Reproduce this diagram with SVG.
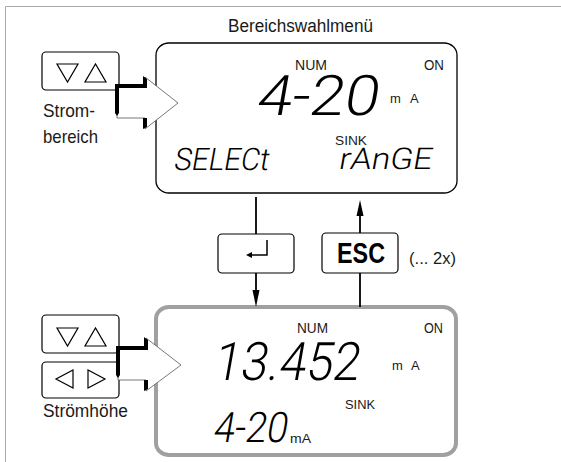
<svg xmlns="http://www.w3.org/2000/svg" width="561" height="462" viewBox="0 0 561 462">
<style>
.lbl{font-family:"Liberation Sans",Arial,sans-serif;fill:#1a1a1a}
.seg{font-family:Roboto,"DejaVu Sans",sans-serif;font-weight:300;fill:#000}
.key{fill:#fff;stroke:#000;stroke-width:1.2}
.tri{fill:none;stroke:#000;stroke-width:1.2;stroke-linejoin:miter}
.conn{stroke:#000;stroke-width:1.8;fill:none}
.bracket{fill:#000}
.arrow{fill:#fff;stroke:#555;stroke-width:0.8}
</style>
<rect x="0" y="0" width="561" height="462" fill="#fff"/>
<g id="frame" stroke="#aaa" stroke-width="1" fill="none">
<path d="M5.5,462 V6.5 H561"/>
</g>
<text class="lbl" x="228" y="31.5" font-size="18" textLength="145" lengthAdjust="spacingAndGlyphs">Bereichswahlmenü</text>

<g id="display-top">
<rect x="156" y="43" width="301" height="150" rx="13" ry="12" fill="#fff" stroke="#000" stroke-width="1.3"/>
<text class="lbl" x="295" y="70" font-size="14" textLength="32" lengthAdjust="spacingAndGlyphs">NUM</text>
<text class="lbl" x="424" y="70" font-size="14" textLength="20" lengthAdjust="spacingAndGlyphs">ON</text>
<g transform="translate(255,115) skewX(-10)"><text class="seg" x="0" y="0" font-size="56" textLength="122" lengthAdjust="spacingAndGlyphs">4-20</text></g>
<text class="lbl" x="390" y="103" font-size="13">m</text>
<text class="lbl" x="410" y="103" font-size="13">A</text>
<text class="lbl" x="335" y="145" font-size="13.5" textLength="32" lengthAdjust="spacingAndGlyphs">SINK</text>
<g transform="translate(173,170) skewX(-10)"><text class="seg" x="0" y="0" font-size="31" textLength="95" lengthAdjust="spacingAndGlyphs">SELECt</text></g>
<g transform="translate(338,169) skewX(-10)"><text class="seg" x="0" y="0" font-size="30" textLength="93" lengthAdjust="spacingAndGlyphs">rAnGE</text></g>
</g>

<g id="display-bottom">
<rect x="156" y="307" width="300" height="148" rx="13" ry="12" fill="#fff" stroke="#a0a0a0" stroke-width="4"/>
<text class="lbl" x="297" y="333" font-size="14" textLength="31" lengthAdjust="spacingAndGlyphs">NUM</text>
<text class="lbl" x="424" y="333" font-size="14" textLength="19" lengthAdjust="spacingAndGlyphs">ON</text>
<g transform="translate(212,380) skewX(-10)"><text class="seg" x="0" y="0" font-size="53" textLength="146" lengthAdjust="spacingAndGlyphs">13.452</text></g>
<text class="lbl" x="392" y="370" font-size="13">m</text>
<text class="lbl" x="411" y="370" font-size="13">A</text>
<text class="lbl" x="345" y="409" font-size="13.5" textLength="30" lengthAdjust="spacingAndGlyphs">SINK</text>
<g transform="translate(212,442) skewX(-10)"><text class="seg" x="0" y="0" font-size="42" textLength="74" lengthAdjust="spacingAndGlyphs">4-20</text></g>
<text class="lbl" x="290" y="443" font-size="12.5" textLength="21" lengthAdjust="spacingAndGlyphs">mA</text>
</g>

<g id="key-range">
<rect class="key" x="42" y="52" width="77" height="38" rx="4"/>
<polygon class="tri" points="57,64 78,64 67.5,82"/>
<polygon class="tri" points="85,82 106,82 95.5,64"/>
<text class="lbl" x="43" y="117" font-size="19" textLength="52" lengthAdjust="spacingAndGlyphs">Strom-</text>
<text class="lbl" x="43" y="143" font-size="19" textLength="55" lengthAdjust="spacingAndGlyphs">bereich</text>
</g>

<g id="key-updown">
<rect class="key" x="42" y="315" width="77" height="38" rx="4"/>
<polygon class="tri" points="57,328 78,328 67.5,346"/>
<polygon class="tri" points="85,346 106,346 95.5,328"/>
</g>
<g id="key-leftright">
<rect class="key" x="42" y="362" width="77" height="36" rx="4"/>
<polygon class="tri" points="73,370 73,388 56,379"/>
<polygon class="tri" points="88,370 88,388 105,379"/>
<text class="lbl" x="43" y="417" font-size="18" textLength="85" lengthAdjust="spacingAndGlyphs">Strömhöhe</text>
</g>

<g id="key-enter">
<rect class="key" x="218" y="234" width="76" height="39" rx="4"/>
<path d="M267,240 V255 H251" fill="none" stroke="#000" stroke-width="1.5"/>
<polygon points="246,255 252,252 252,258" fill="#000"/>
</g>

<g id="key-esc">
<rect class="key" x="322" y="233" width="76" height="40" rx="4"/>
<text x="337" y="263" font-family="Liberation Sans,Arial,sans-serif" font-weight="bold" font-size="29" textLength="48" lengthAdjust="spacingAndGlyphs" fill="#000">ESC</text>
<text class="lbl" x="409" y="264" font-size="16" textLength="47" lengthAdjust="spacingAndGlyphs">(... 2x)</text>
</g>

<g id="connectors">
<line class="conn" x1="256" y1="197" x2="256" y2="234"/>
<line class="conn" x1="256" y1="273" x2="256" y2="292"/>
<polygon points="252.5,290 259.5,290 256,307" fill="#000"/>
<line class="conn" x1="360" y1="307" x2="360" y2="273"/>
<line class="conn" x1="360" y1="233" x2="360" y2="214"/>
<polygon points="356.5,216 363.5,216 360,200" fill="#000"/>
<g id="arrow-top">
<polygon class="arrow" points="117,86 145,86 145,77 178,103 145,129 145,118 117,118"/>
<path class="bracket" d="M115,84 H145 V88 H119 V113 L117,116 L115,113 Z"/>
<path class="bracket" d="M143,76 L147,79 V88 H143 Z"/>
<path class="bracket" d="M143,118 H147 V127 L143,129 Z"/>
</g>
<g id="arrow-bottom">
<polygon class="arrow" points="118,348 146,348 146,338 181,365 146,391 146,380 118,380"/>
<path class="bracket" d="M116,346 H146 V350 H120 V375 L118,378 L116,375 Z"/>
<path class="bracket" d="M144,337 L148,340 V350 H144 Z"/>
<path class="bracket" d="M144,380 H148 V389 L144,391 Z"/>
</g>
</g>
</svg>
